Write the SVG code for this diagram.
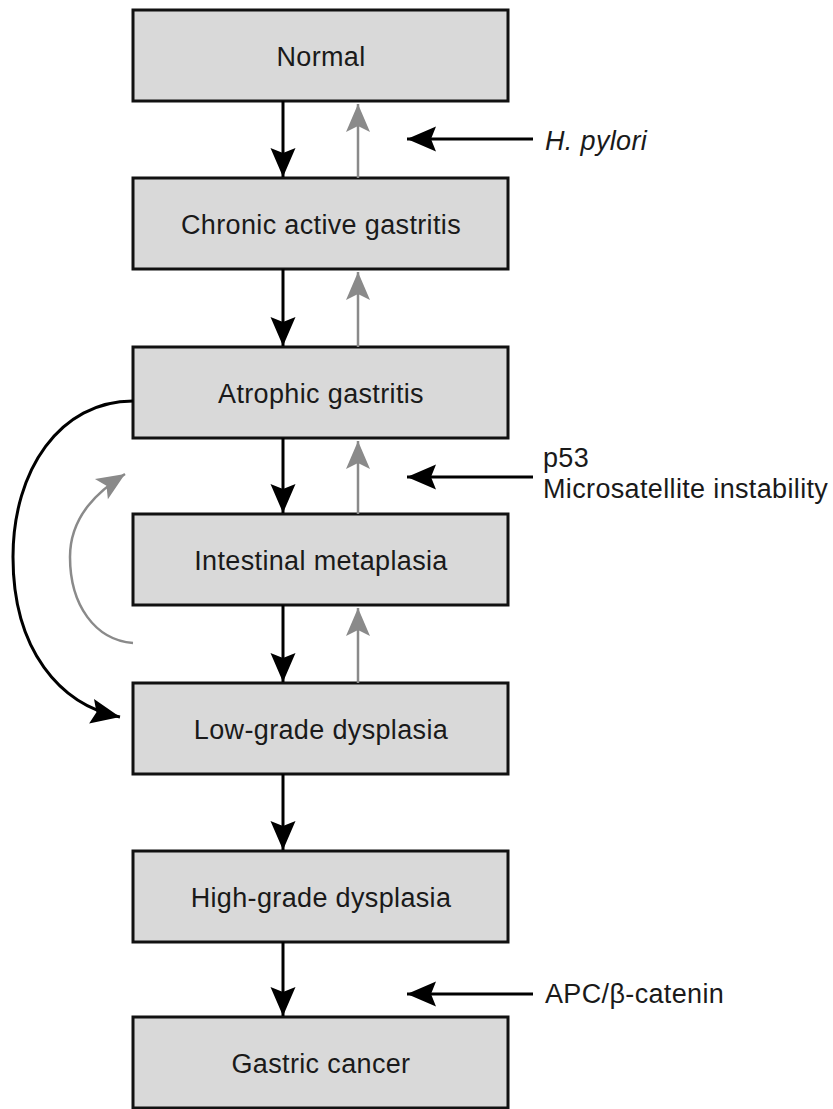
<svg xmlns="http://www.w3.org/2000/svg" width="833" height="1109" viewBox="0 0 833 1109">
<style>
.box{fill:#d9d9d9;stroke:#111;stroke-width:3}
.lbl{font-family:"Liberation Sans",Arial,sans-serif;font-size:27px;letter-spacing:0.35px;fill:#1a1a1a;text-anchor:middle}
.side{font-family:"Liberation Sans",Arial,sans-serif;font-size:27px;letter-spacing:0.35px;fill:#1a1a1a}
.blk{stroke:#000;stroke-width:3;fill:none}
.gry{stroke:#8a8a8a;stroke-width:2.5;fill:none}
</style>
<defs>
<marker id="hb" viewBox="-32 -14 34 28" refX="0" refY="0" markerWidth="34" markerHeight="28" orient="auto" markerUnits="userSpaceOnUse">
<path d="M0,0 L-29,-12.5 L-24,0 L-29,12.5 Z" fill="#000"/>
</marker>
<marker id="hg" viewBox="-32 -14 34 28" refX="0" refY="0" markerWidth="34" markerHeight="28" orient="auto" markerUnits="userSpaceOnUse">
<path d="M0,0 L-28,-12 L-22,0 L-28,12 Z" fill="#8a8a8a"/>
</marker>
</defs>
<rect width="833" height="1109" fill="#fff"/>
<g id="n1"><rect class="box" x="133" y="10" width="375" height="91"/><text class="lbl" x="321" y="66">Normal</text></g>
<g id="n2"><rect class="box" x="133" y="178" width="375" height="91"/><text class="lbl" x="321" y="234">Chronic active gastritis</text></g>
<g id="n3"><rect class="box" x="133" y="347" width="375" height="91"/><text class="lbl" x="321" y="403">Atrophic gastritis</text></g>
<g id="n4"><rect class="box" x="133" y="514" width="375" height="91"/><text class="lbl" x="321" y="570">Intestinal metaplasia</text></g>
<g id="n5"><rect class="box" x="133" y="683" width="375" height="91"/><text class="lbl" x="321" y="739">Low-grade dysplasia</text></g>
<g id="n6"><rect class="box" x="133" y="851" width="375" height="91"/><text class="lbl" x="321" y="907">High-grade dysplasia</text></g>
<g id="n7"><rect class="box" x="133" y="1017" width="375" height="91"/><text class="lbl" x="321" y="1073">Gastric cancer</text></g>
<g id="connectors">
<line class="blk" x1="283" y1="101" x2="283" y2="177" marker-end="url(#hb)"/>
<line class="blk" x1="283" y1="269" x2="283" y2="346" marker-end="url(#hb)"/>
<line class="blk" x1="283" y1="438" x2="283" y2="513" marker-end="url(#hb)"/>
<line class="blk" x1="283" y1="605" x2="283" y2="682" marker-end="url(#hb)"/>
<line class="blk" x1="283" y1="774" x2="283" y2="850" marker-end="url(#hb)"/>
<line class="blk" x1="283" y1="942" x2="283" y2="1016" marker-end="url(#hb)"/>
<line class="gry" x1="358" y1="178" x2="358" y2="104" marker-end="url(#hg)"/>
<line class="gry" x1="358" y1="347" x2="358" y2="272" marker-end="url(#hg)"/>
<line class="gry" x1="358" y1="514" x2="358" y2="441" marker-end="url(#hg)"/>
<line class="gry" x1="358" y1="683" x2="358" y2="608" marker-end="url(#hg)"/>
<line class="blk" x1="533" y1="139" x2="407" y2="139" marker-end="url(#hb)"/>
<line class="blk" x1="533" y1="477" x2="407" y2="477" marker-end="url(#hb)"/>
<line class="blk" x1="533" y1="994" x2="407" y2="994" marker-end="url(#hb)"/>
<path class="blk" d="M133,401 C60,401 13,470 13,557 C13,650 60,705 120,717" marker-end="url(#hb)"/>
<path class="gry" d="M133,643 C95,640 70,605 70,557 C70,515 100,490 125,474" marker-end="url(#hg)"/>
</g>
<text class="side" x="545" y="150" font-style="italic">H. pylori</text>
<text class="side" x="543" y="467">p53</text>
<text class="side" x="543" y="498">Microsatellite instability</text>
<text class="side" x="545" y="1003">APC/β-catenin</text>
</svg>
